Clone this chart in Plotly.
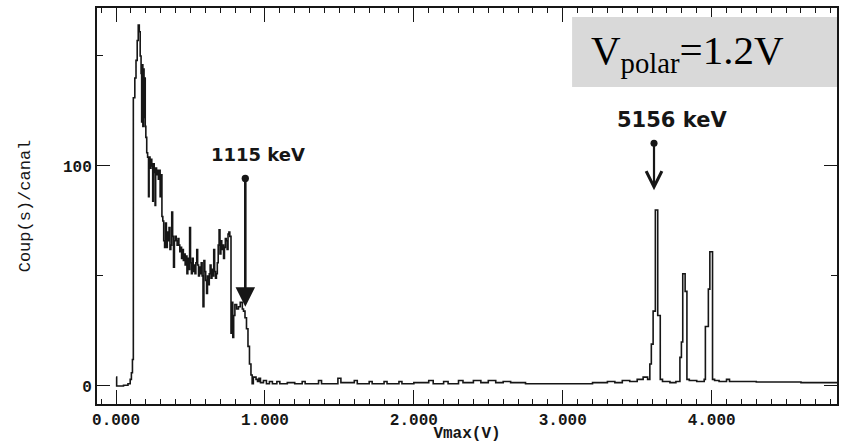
import plotly.graph_objects as go

# ---- data: channel left edge (V) and counts ----
VOLTS = [0.000, 0.004, 0.050, 0.080, 0.095, 0.103, 0.110, 0.116, 0.126, 0.134, 0.142, 0.149,
         0.156, 0.162, 0.168, 0.172, 0.176, 0.180, 0.184, 0.188, 0.192, 0.196, 0.200, 0.206,
         0.212, 0.218, 0.222, 0.228, 0.234, 0.240, 0.246, 0.250, 0.256, 0.262, 0.266, 0.272,
         0.278, 0.284, 0.290, 0.296, 0.302, 0.308, 0.314, 0.320, 0.326, 0.332, 0.338, 0.344,
         0.350, 0.356, 0.362, 0.368, 0.374, 0.380, 0.386, 0.392, 0.398, 0.404, 0.410, 0.416,
         0.422, 0.428, 0.434, 0.440, 0.446, 0.452, 0.458, 0.464, 0.470, 0.476, 0.482, 0.488,
         0.494, 0.500, 0.506, 0.512, 0.518, 0.524, 0.530, 0.536, 0.542, 0.548, 0.554, 0.560,
         0.566, 0.572, 0.578, 0.584, 0.590, 0.596, 0.602, 0.608, 0.614, 0.620, 0.626, 0.632,
         0.638, 0.644, 0.650, 0.656, 0.662, 0.668, 0.674, 0.680, 0.686, 0.692, 0.698, 0.704,
         0.710, 0.716, 0.722, 0.728, 0.734, 0.740, 0.746, 0.752, 0.758, 0.764, 0.772, 0.778,
         0.784, 0.790, 0.798, 0.810, 0.822, 0.834, 0.848, 0.856, 0.866, 0.876, 0.886, 0.896,
         0.906, 0.914, 0.922, 0.940, 0.950, 0.960, 0.970, 0.990, 1.010, 1.030, 1.050, 1.080,
         1.100, 1.150, 1.200, 1.250, 1.270, 1.360, 1.380, 1.490, 1.510, 1.600, 1.620, 1.700,
         1.720, 1.800, 1.820, 1.900, 1.920, 2.000, 2.100, 2.130, 2.200, 2.230, 2.300, 2.330,
         2.400, 2.450, 2.500, 2.550, 2.600, 2.650, 2.750, 2.900, 3.050, 3.200, 3.300, 3.350,
         3.400, 3.450, 3.500, 3.540, 3.570, 3.585, 3.595, 3.607, 3.622, 3.638, 3.655, 3.670,
         3.720, 3.760, 3.787, 3.797, 3.806, 3.822, 3.834, 3.850, 3.900, 3.950, 3.958, 3.978,
         3.988, 4.006, 4.020, 4.050, 4.100, 4.120, 4.300, 4.600, 4.842]
COUNTS = [4, 0, 0.3, 1, 3, 6, 12, 131, 140, 148, 157, 164,
          161, 150, 142, 120, 146, 118, 144, 122, 140, 118, 113, 106,
          104, 86, 104, 99, 103, 100, 84, 101, 97, 82, 99, 96,
          98, 94, 98, 86, 96, 77, 75, 66, 63, 74, 63, 70,
          66, 72, 62, 64, 79, 68, 54, 66, 68, 66, 64, 67,
          64, 61, 63, 58, 62, 57, 60, 55, 59, 51, 58, 53,
          72, 56, 51, 58, 52, 55, 51, 56, 62, 55, 50, 54,
          51, 56, 50, 36, 57, 52, 48, 42, 50, 46, 51, 55,
          49, 53, 50, 62, 52, 49, 51, 56, 64, 71, 60, 66,
          62, 64, 58, 63, 67, 66, 62, 69, 70, 68, 24, 38,
          22, 32, 37, 35, 36, 38, 35, 34, 31, 26, 18, 10,
          5, 1, 4, 3, 2, 3.5, 1.5, 2.5, 1, 2, 1, 2,
          1, 1.5, 1, 2, 1, 2.5, 1, 3.5, 1.5, 2.5, 1, 2,
          1, 2, 1, 2, 1, 1.5, 2.5, 1, 2, 1, 2.5, 1.5,
          2.5, 1.5, 2.5, 1.5, 2, 1.5, 1, 1, 1, 1.5, 2, 1.5,
          2.5, 2, 3, 4, 3, 10, 19, 34, 80, 32, 3, 2,
          1.5, 2, 13, 20, 51, 43, 3, 2.5, 2, 3, 27, 44,
          61, 3, 2.5, 2, 3, 2, 1.8, 1.5, 1.5]
assert len(VOLTS) == len(COUNTS)

X_TICKS = [0, 1, 2, 3, 4]
X_TICK_TEXT = ["<b>0.000</b>", "<b>1.000</b>", "<b>2.000</b>", "<b>3.000</b>", "<b>4.000</b>"]
Y_TICKS = [0, 100]
Y_TICK_TEXT = ["<b>0</b>", "<b>100</b>"]

INK = "#161616"
MONO = "Liberation Mono, DejaVu Sans Mono, monospace"
HAND = "DejaVu Sans, Arial, sans-serif"

fig = go.Figure()
fig.add_trace(go.Scatter(x=VOLTS, y=COUNTS, mode="lines", line_shape="hv",
                         line=dict(color=INK, width=1.6), hoverinfo="skip",
                         showlegend=False))

# arrows (tail dot + head)
fig.add_annotation(x=0.868, y=36, ax=0.868, ay=95, xref="x", yref="y", axref="x", ayref="y",
                   showarrow=True, arrowside="end+start", arrowhead=2, arrowsize=1.5,
                   startarrowhead=6, startarrowsize=0.7, arrowwidth=2.6, arrowcolor=INK, text="")
fig.add_annotation(x=3.613, y=89, ax=3.613, ay=111, xref="x", yref="y", axref="x", ayref="y",
                   showarrow=True, arrowside="end+start", arrowhead=5, arrowsize=1.4,
                   startarrowhead=6, startarrowsize=0.8, arrowwidth=2.2, arrowcolor=INK, text="")
fig.add_annotation(x=0.954, y=105, xref="x", yref="y", showarrow=False,
                   text="<b>1115 keV</b>", font=dict(family=HAND, size=18, color=INK))
fig.add_annotation(x=3.734, y=121, xref="x", yref="y", showarrow=False,
                   text="<b>5156 keV</b>", font=dict(family=HAND, size=21, color=INK))

# grey label box
fig.add_shape(type="rect", xref="paper", yref="paper", x0=0.642, x1=1.0, y0=0.8005, y1=0.977,
              fillcolor="#d9d9d9", line=dict(width=0), layer="above")
fig.add_annotation(x=0.798, y=0.886, xref="paper", yref="paper", xanchor="center", yanchor="middle",
                   showarrow=False, text="V<sub>polar</sub>=1.2V",
                   font=dict(family="Liberation Serif, Times New Roman, serif", size=41, color="black"))

axis_common = dict(showline=True, linecolor=INK, linewidth=2, mirror="allticks",
                   ticks="inside", tickcolor=INK, showgrid=False, zeroline=False,
                   automargin=False)

fig.update_xaxes(range=[-0.128, 4.842], tickvals=X_TICKS, ticktext=X_TICK_TEXT,
                 ticklen=14, tickwidth=1.3,
                 minor=dict(dtick=0.1, tick0=0, ticklen=5, tickwidth=1, tickcolor=INK, ticks="inside",
                            showgrid=False),
                 tickfont=dict(family=MONO, size=16, color=INK),
                 title=dict(text="<b>Vmax(V)</b>", font=dict(family=MONO, size=16, color=INK),
                            standoff=4),
                 **axis_common)
fig.update_yaxes(range=[-8.2, 171.8], tickvals=Y_TICKS, ticktext=Y_TICK_TEXT,
                 ticklen=13, tickwidth=1.3,
                 minor=dict(dtick=50, tick0=0, ticklen=6, tickwidth=1, tickcolor=INK, ticks="inside",
                            showgrid=False),
                 tickfont=dict(family=MONO, size=16, color=INK),
                 title=dict(text="Coup(s)/canal", font=dict(family=MONO, size=17, color=INK),
                            standoff=28),
                 **axis_common)

fig.update_layout(width=842, height=443, margin=dict(l=97, r=5, t=8, b=39),
                  paper_bgcolor="white", plot_bgcolor="white", showlegend=False)

fig.write_html("out.html", config={"displayModeBar": False},
               post_script="document.body.style.margin='0';document.body.style.padding='0';")
